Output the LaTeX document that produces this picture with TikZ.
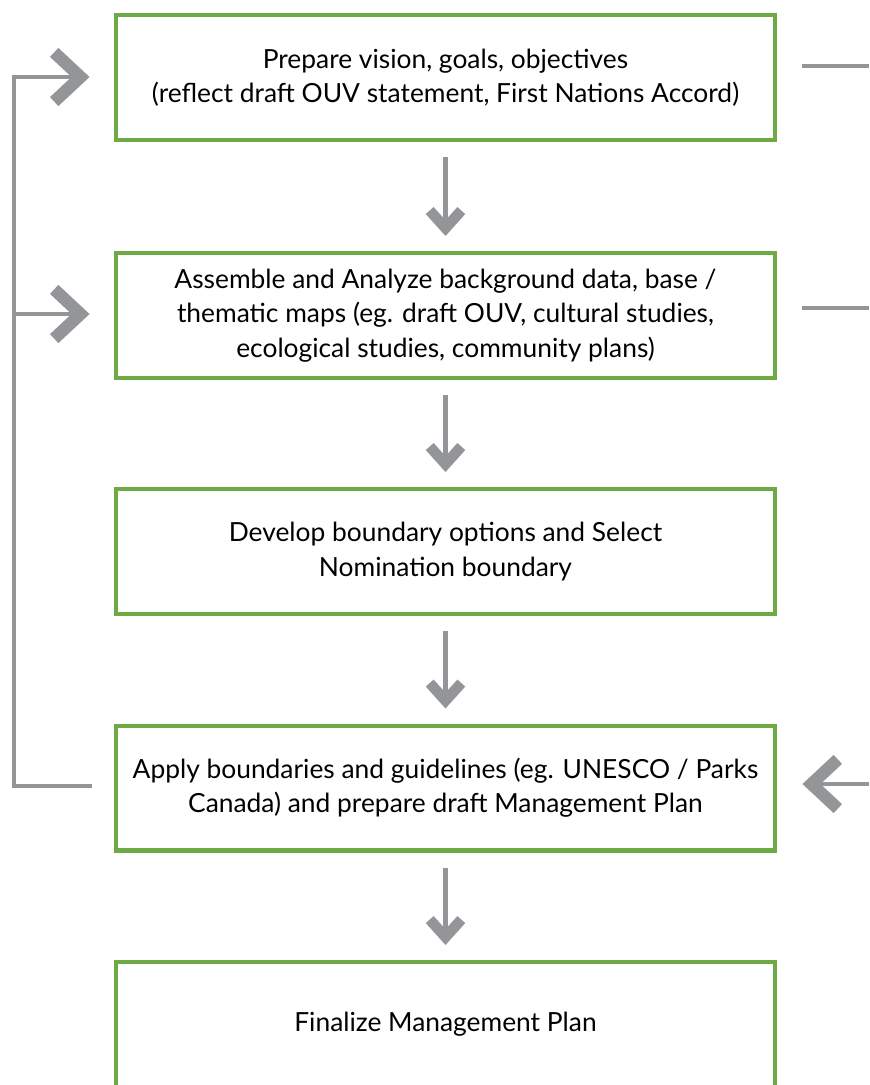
\documentclass[tikz,border=0pt]{standalone}
\usepackage{fontspec}
\setmainfont{Lato}
\usepackage{xcolor}
\usetikzlibrary{arrows.meta}
\definecolor{boxgreen}{HTML}{6DAA44}
\definecolor{flowgray}{HTML}{939598}

\begin{document}
\begin{tikzpicture}[x=0.02cm,y=-0.02cm,
    stage/.style={rectangle,draw=boxgreen,line width=2.3pt,minimum width=13.2cm,
                  minimum height=2.5cm,align=center,font=\fontsize{15}{19.5}\selectfont},
    link/.style={draw=flowgray,line width=2.8pt},
    flow/.style={link,-{Straight Barb[length=10pt,width=18pt,line width=6pt]}},
    bigflow/.style={link,-{Straight Barb[length=15pt,width=28pt,line width=7pt]}}
]
\useasboundingbox (0,0) rectangle (869,1085);

\node[stage] (vision)   at (445.5,77.75) {Prepare vision, goals, objectives\\(reflect draft OUV statement, First Nations Accord)};
\node[stage] (analyze)  at (445.5,315.5) {Assemble and Analyze background data, base /\\thematic maps (eg. draft OUV, cultural studies,\\ecological studies, community plans)};
\node[stage] (boundary) at (445.5,551.5) {Develop boundary options and Select\\Nomination boundary};
\node[stage] (apply)    at (445.5,788)   {Apply boundaries and guidelines (eg. UNESCO / Parks\\Canada) and prepare draft Management Plan};
\node[stage] (final)    at (445.5,1024.5) {Finalize Management Plan};

% down arrows between stages
\draw[flow] ([yshift=-0.3cm]vision.south) -- ([yshift=0.3cm]analyze.north);
\draw[flow] ([yshift=-0.3cm]analyze.south) -- ([yshift=0.3cm]boundary.north);
\draw[flow] ([yshift=-0.3cm]boundary.south) -- ([yshift=0.3cm]apply.north);
\draw[flow] ([yshift=-0.3cm]apply.south) -- ([yshift=0.3cm]final.north);

% feedback loop on the left
\coordinate (loopstart) at (92,786);
\coordinate (loopcorner) at (14,786);
\coordinate (looptop) at (14,77);
\coordinate (loopmid) at (14,314);
\draw[link] (loopstart) -- (loopcorner) -- ([yshift=1.4pt]looptop);
\draw[bigflow] (looptop) -- ([xshift=-0.48cm]vision.west |- looptop);
\draw[bigflow] (loopmid) -- ([xshift=-0.48cm]analyze.west |- loopmid);

% outputs / inputs on the right
\coordinate (outone) at (869,66);
\coordinate (outtwo) at (869,308);
\coordinate (inapply) at (869,784);
\draw[link] ([xshift=0.5cm]vision.east |- outone) -- (outone);
\draw[link] ([xshift=0.5cm]analyze.east |- outtwo) -- (outtwo);
\draw[bigflow] (inapply) -- ([xshift=0.5cm]apply.east |- inapply);
\end{tikzpicture}
\end{document}
